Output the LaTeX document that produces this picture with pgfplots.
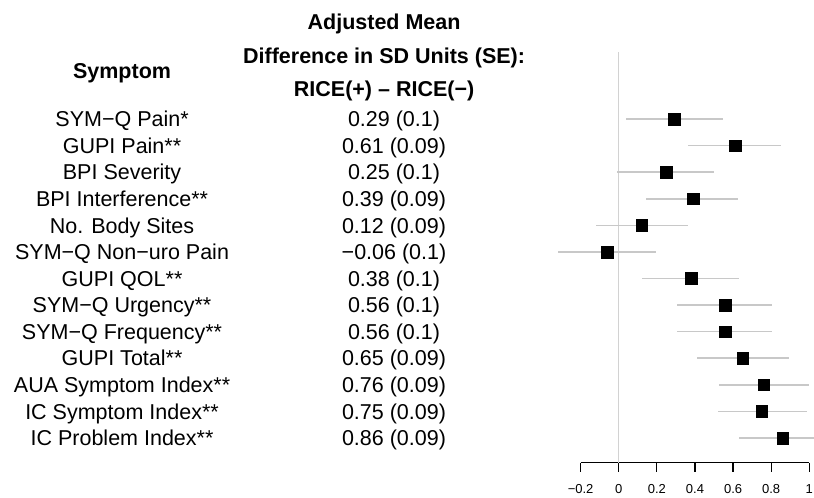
\documentclass[border=0pt]{standalone}
\usepackage{pgfplots}
\pgfplotsset{compat=1.18}
\usepackage{pgfplotstable}
\usepackage{fontspec}
\setmainfont{Liberation Sans}
\definecolor{cigray}{HTML}{C8C8C8}
\definecolor{zerogray}{HTML}{D2D2D2}
\pgfplotstableread{
r m em ep
-1 0.29 0.252 0.256
-2 0.61 0.245 0.242
-3 0.25 0.257 0.248
-4 0.39 0.245 0.234
-5 0.12 0.239 0.244
-6 -0.06 0.260 0.257
-7 0.38 0.258 0.250
-8 0.56 0.256 0.246
-9 0.56 0.256 0.246
-10 0.65 0.239 0.245
-11 0.76 0.234 0.239
-12 0.75 0.229 0.238
-13 0.86 0.230 0.164
}\fdata
\newcommand{\rowfont}{\fontsize{21.5pt}{26pt}\selectfont}
\tikzset{rl/.style={anchor=base, font=\rowfont, yshift=-7.7pt}}
\begin{document}
\begin{tikzpicture}
\path[use as bounding box] (0,0) rectangle (814pt,-498pt);
\begin{axis}[
  at={(580.6pt,-462.7pt)}, anchor=south west,
  scale only axis, width=228.7pt, height=410.7pt,
  xmin=-0.2, xmax=1, ymin=-13.93, ymax=1.52,
  clip=false,
  axis x line*=bottom, axis y line=none,
  x axis line style={line width=1.3pt, black},
  xtick={-0.2,0,0.2,0.4,0.6,0.8,1},
  xticklabels={−0.2,0,0.2,0.4,0.6,0.8,1},
  xtick pos=bottom, tick align=outside,
  major tick length=9pt,
  x tick style={line width=1.3pt, black},
  xticklabel style={font=\fontsize{13pt}{15pt}\selectfont, yshift=-9.5pt},
]
\addplot[zerogray, line width=1.4pt] coordinates {(0,-13.93) (0,1.52)};
\addplot[only marks, mark=square*, mark size=5.8pt, black,
  error bars/.cd, x dir=both, x explicit, error mark=none,
  error bar style={cigray, line width=1.6pt}]
  table[x=m, y=r, x error plus=ep, x error minus=em] {\fdata};
% header
\node[anchor=base, font=\rowfont\bfseries] at (axis cs:-2.606,0.542) {Symptom};
\node[anchor=base, font=\rowfont\bfseries] at (axis cs:-1.231,2.348) {Adjusted Mean};
\node[anchor=base, font=\rowfont\bfseries] at (axis cs:-1.231,1.069) {Difference in SD Units (SE):};
\node[anchor=base, font=\rowfont\bfseries] at (axis cs:-1.231,-0.172) {RICE(+) – RICE(−)};
% symptom column
\node[rl] at (axis cs:-2.606,-1) {SYM−Q Pain*};
\node[rl] at (axis cs:-2.606,-2) {GUPI Pain**};
\node[rl] at (axis cs:-2.606,-3) {BPI Severity};
\node[rl] at (axis cs:-2.606,-4) {BPI Interference**};
\node[rl] at (axis cs:-2.606,-5) {No. Body Sites};
\node[rl] at (axis cs:-2.606,-6) {SYM−Q Non−uro Pain};
\node[rl] at (axis cs:-2.606,-7) {GUPI QOL**};
\node[rl] at (axis cs:-2.606,-8) {SYM−Q Urgency**};
\node[rl] at (axis cs:-2.606,-9) {SYM−Q Frequency**};
\node[rl] at (axis cs:-2.606,-10) {GUPI Total**};
\node[rl] at (axis cs:-2.606,-11) {AUA Symptom Index**};
\node[rl] at (axis cs:-2.606,-12) {IC Symptom Index**};
\node[rl] at (axis cs:-2.606,-13) {IC Problem Index**};
% value column
\node[rl] at (axis cs:-1.179,-1) {0.29 (0.1)};
\node[rl] at (axis cs:-1.179,-2) {0.61 (0.09)};
\node[rl] at (axis cs:-1.179,-3) {0.25 (0.1)};
\node[rl] at (axis cs:-1.179,-4) {0.39 (0.09)};
\node[rl] at (axis cs:-1.179,-5) {0.12 (0.09)};
\node[rl] at (axis cs:-1.179,-6) {−0.06 (0.1)};
\node[rl] at (axis cs:-1.179,-7) {0.38 (0.1)};
\node[rl] at (axis cs:-1.179,-8) {0.56 (0.1)};
\node[rl] at (axis cs:-1.179,-9) {0.56 (0.1)};
\node[rl] at (axis cs:-1.179,-10) {0.65 (0.09)};
\node[rl] at (axis cs:-1.179,-11) {0.76 (0.09)};
\node[rl] at (axis cs:-1.179,-12) {0.75 (0.09)};
\node[rl] at (axis cs:-1.179,-13) {0.86 (0.09)};
\end{axis}
\end{tikzpicture}
\end{document}
